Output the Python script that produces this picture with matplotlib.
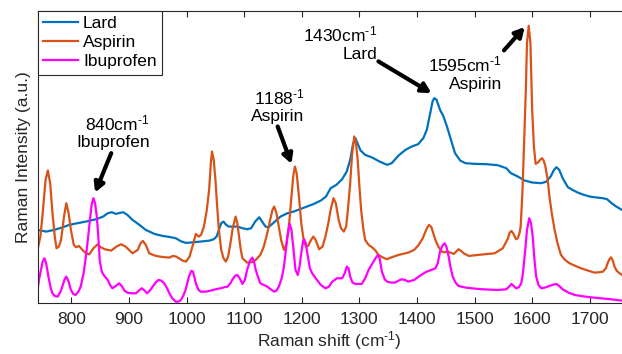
import matplotlib
matplotlib.use("Agg")
import matplotlib.pyplot as plt

plt.rcParams['font.family'] = ['Liberation Sans', 'DejaVu Sans']
plt.rcParams['mathtext.fontset'] = 'custom'
plt.rcParams['mathtext.rm'] = 'Liberation Sans'
plt.rcParams['mathtext.it'] = 'Liberation Sans:italic'
plt.rcParams['mathtext.default'] = 'regular'

# ---------------- data (Raman shift in cm^-1, intensity in a.u.) ----------------
lard_x = [741, 756, 770, 785, 796, 810, 825, 843, 855, 863, 870, 877, 884, 890, 897, 906, 918, 929,
          944, 958, 970, 981, 990, 999, 1012, 1024, 1040, 1047, 1052, 1056, 1060, 1064, 1068, 1073,
          1080, 1088, 1097, 1105, 1112, 1119, 1126, 1131, 1137, 1142, 1150, 1163, 1175, 1186, 1198,
          1209, 1221, 1233, 1242, 1250, 1260, 1270, 1278, 1284, 1289, 1293, 1297, 1302, 1310, 1322,
          1335, 1348, 1356, 1368, 1380, 1391, 1402, 1411, 1417, 1423, 1427, 1430, 1434, 1440, 1446,
          1452, 1459, 1466, 1475, 1484, 1500, 1520, 1540, 1555, 1563, 1575, 1587, 1600, 1616, 1625,
          1632, 1638, 1642, 1647, 1653, 1662, 1670, 1679, 1690, 1700, 1708, 1723, 1730, 1738, 1746,
          1756]
lard_y = [220, 215, 220, 228, 235, 240, 245, 252, 260, 270, 273, 268, 271, 273, 265, 250, 235, 220,
          208, 202, 199, 195, 186, 181, 183, 185, 188, 192, 200, 220, 240, 245, 236, 230,
          230, 230, 225, 222, 225, 245, 258, 245, 230, 228, 240, 260, 270, 275, 283,
          290, 298, 308, 320, 345, 355, 372, 395, 430, 478, 495, 478, 458, 445, 437,
          425, 415, 420, 443, 460, 470, 477, 495, 520, 570, 605, 615, 610, 580, 560,
          530, 490, 450, 428, 420, 418, 417, 414, 405, 390, 380, 368, 362, 360, 365,
          380, 400, 408, 400, 375, 348, 340, 332, 325, 320, 318, 315, 312, 300, 290,
          280]

aspirin_x = [741, 746, 750, 755, 759, 763, 767, 771, 774, 778, 782, 787, 791, 795, 799, 804, 808, 813,
             819, 825, 831, 838, 845, 851, 858, 869, 878, 886, 894, 906, 915, 920, 924, 929, 935, 945,
             953, 963, 970, 976, 982, 993, 999, 1005, 1010, 1016, 1021, 1025, 1030, 1035, 1039, 1042,
             1044, 1047, 1050, 1053, 1056, 1060, 1064, 1068, 1072, 1076, 1080, 1085, 1088, 1091, 1094,
             1097, 1105, 1113, 1120, 1128, 1134, 1140, 1145, 1149, 1152, 1156, 1160, 1164, 1169, 1173,
             1178, 1182, 1185, 1188, 1191, 1195, 1199, 1204, 1208, 1211, 1216, 1220, 1224, 1230, 1236,
             1241, 1246, 1250, 1255, 1259, 1264, 1268, 1273, 1277, 1280, 1284, 1287, 1291, 1294, 1297,
             1300, 1303, 1307, 1310, 1316, 1322, 1328, 1333, 1340, 1348, 1356, 1368, 1385, 1395, 1403,
             1410, 1414, 1418, 1421, 1425, 1428, 1432, 1437, 1443, 1448, 1453, 1458, 1464, 1468, 1472,
             1476, 1481, 1490, 1506, 1535, 1549, 1555, 1558, 1561, 1564, 1567, 1572, 1575, 1578, 1580,
             1583, 1586, 1589, 1591, 1594, 1597, 1600, 1603, 1606, 1610, 1614, 1617, 1620, 1623, 1627,
             1630, 1634, 1639, 1644, 1650, 1657, 1665, 1675, 1685, 1697, 1708, 1716, 1723, 1728, 1731,
             1734, 1737, 1740, 1743, 1747, 1752, 1756]
aspirin_y = [160, 200, 270, 370, 398, 360, 270, 200, 165, 170, 190, 260, 300, 270, 220, 175, 168, 172,
             160, 150, 147, 165, 176, 168, 162, 158, 170, 177, 170, 150, 160, 180, 187, 175, 150, 143,
             140, 138, 137, 142, 140, 128, 125, 140, 170, 208, 200, 205, 230, 280, 340, 420,
             455, 430, 370, 290, 220, 160, 135, 125, 140, 180, 225, 260, 240, 200, 160,
             135, 122, 123, 130, 145, 170, 210, 250, 280, 290, 270, 230, 190, 160, 175,
             240, 320, 380, 410, 390, 320, 240, 180, 170, 172, 190, 200, 190, 162, 170,
             200, 240, 280, 315, 300, 250, 225, 215, 230, 280, 360, 440, 500, 480, 430,
             350, 280, 220, 190, 175, 168, 158, 145, 138, 132, 138, 145, 152, 160, 175,
             195, 212, 228, 235, 228, 212, 190, 170, 155, 153, 155, 152, 148, 155, 162,
             158, 150, 142, 145, 150, 165, 185, 195, 212, 217, 210, 192, 195, 210, 230,
             330, 480, 640, 780, 832, 780, 580, 470, 418, 422, 430, 435, 428, 410, 370,
             320, 270, 220, 180, 145, 130, 120, 112, 105, 98, 92, 93, 95, 105, 120,
             132, 138, 128, 110, 97, 90, 85]

ibu_x = [741, 744, 747, 750, 753, 756, 760, 764, 767, 771, 776, 781, 785, 788, 791, 795, 799, 803, 807,
         812, 816, 821, 825, 829, 832, 835, 838, 841, 844, 847, 849, 852, 854, 858, 863, 867, 871, 877,
         883, 888, 892, 897, 903, 912, 917, 922, 927, 931, 936, 941, 946, 951, 956, 961, 966, 970, 975,
         981, 986, 990, 994, 998, 1004, 1008, 1011, 1016, 1020, 1024, 1033, 1042, 1050, 1059, 1065,
         1071, 1076, 1079, 1084, 1088, 1092, 1097, 1101, 1105, 1110, 1114, 1117, 1120, 1124, 1128,
         1134, 1140, 1146, 1152, 1156, 1160, 1165, 1169, 1172, 1175, 1179, 1182, 1185, 1189, 1193,
         1196, 1199, 1202, 1204, 1207, 1210, 1214, 1218, 1224, 1233, 1241, 1247, 1253, 1261, 1270,
         1275, 1278, 1281, 1284, 1288, 1293, 1304, 1310, 1316, 1322, 1328, 1332, 1335, 1339, 1344,
         1348, 1355, 1362, 1368, 1373, 1379, 1385, 1395, 1403, 1410, 1417, 1425, 1432, 1436, 1440,
         1444, 1448, 1451, 1455, 1458, 1462, 1467, 1472, 1485, 1495, 1513, 1540, 1555, 1560, 1564,
         1568, 1572, 1577, 1581, 1584, 1588, 1591, 1595, 1598, 1601, 1604, 1607, 1611, 1616, 1622,
         1627, 1635, 1642, 1647, 1653, 1663, 1674, 1688, 1702, 1720, 1737, 1756]
ibu_y = [40, 75, 100, 125, 135, 120, 80, 45, 30, 22, 20, 35, 55, 72, 80, 65, 40, 28, 25,
         35, 50, 90, 140, 200, 250, 295, 315, 300, 260, 190, 130, 100, 90, 80, 70, 55, 45, 52,
         60, 50, 38, 32, 30, 30, 38, 45, 38, 30, 38, 50, 62, 70, 68, 60, 45, 30, 15,
         5, 5, 10, 22, 40, 80, 97, 95, 60, 42, 35, 35, 38, 42, 45, 48,
         50, 60, 70, 82, 85, 75, 58, 70, 100, 128, 137, 125, 100, 78, 60,
         55, 50, 42, 35, 38, 50, 75, 110, 155, 200, 238, 220, 170, 100, 85,
         110, 150, 185, 192, 180, 145, 105, 90, 75, 55, 45, 50, 65, 75, 75,
         92, 110, 105, 80, 62, 58, 58, 75, 100, 118, 135, 145, 135, 95, 72,
         65, 62, 62, 68, 72, 70, 65, 70, 80, 88, 95, 100, 105, 120, 155,
         172, 180, 170, 140, 110, 80, 62, 52, 47, 45, 42, 40, 42, 50, 58,
         52, 45, 48, 60, 90, 160, 220, 255, 240, 200, 130, 80, 55, 45, 47,
         50, 55, 58, 52, 42, 32, 25, 21, 18, 15, 12, 8]

series_names = ['Lard', 'Aspirin', 'Ibuprofen']
series_colors = ['#0072BD', '#D95319', '#FF00FF']
x_ticks = [800, 900, 1000, 1100, 1200, 1300, 1400, 1500, 1600, 1700]

SUP = r'$^{\text{-1}}$'
# annotations: (text, text_x, text_y, arrow tail (x,y), arrow head (x,y))
annotations = [
    ('840cm' + SUP + '\nIbuprofen', 936, 458, (869, 450), (841, 332)),
    ('1188' + SUP + '\nAspirin', 1205, 536, (1158, 530), (1182, 418)),
    ('1430cm' + SUP + '\nLard', 1331, 724, (1333, 725), (1425, 630)),
    ('1595cm' + SUP + '\nAspirin', 1548, 634, (1551, 758), (1587, 828)),
]

# ---------------- figure ----------------
fig = plt.figure(figsize=(6.22, 3.54), dpi=100)
ax = fig.add_axes([0.0603, 0.1432, 0.9397, 0.8266])

gray = '#262626'
for xs, ys, name, col in zip([lard_x, aspirin_x, ibu_x], [lard_y, aspirin_y, ibu_y],
                             series_names, series_colors):
    ax.plot(xs, ys, color=col, lw=1.6, label=name, solid_joinstyle='round')

FS = 12.5
ax.set_xlim(741, 1756)
ax.set_ylim(0, 877)
ax.set_xticks(x_ticks)
ax.set_yticks([])
ax.tick_params(axis='x', direction='in', top=True, length=4, width=0.8, colors=gray,
               labelsize=FS, pad=6)
ax.tick_params(axis='x', labelcolor=gray)
for s in ['left', 'bottom', 'top']:
    ax.spines[s].set_color(gray)
    ax.spines[s].set_linewidth(0.8)
ax.spines['right'].set_visible(False)

ax.set_xlabel('Raman shift (cm' + SUP + ')', fontsize=FS, color=gray, labelpad=2)
ax.set_ylabel('Raman Intensity (a.u.)', fontsize=FS, color=gray, labelpad=5)

leg = ax.legend(loc='upper left', bbox_to_anchor=(0, 1), borderaxespad=0, fontsize=FS,
                frameon=True, fancybox=False, framealpha=1, edgecolor=gray,
                handlelength=2.0, handletextpad=0.3, labelspacing=0.22, borderpad=0.32)
leg.get_frame().set_linewidth(0.8)

for txt, tx, ty, tail, head in annotations:
    ax.text(tx, ty, txt, ha='right', va='bottom', multialignment='right', fontsize=FS,
            color='black', linespacing=1.2)
    ax.annotate('', xy=head, xytext=tail,
                arrowprops=dict(arrowstyle='-|>,head_length=0.55,head_width=0.3', lw=3,
                                color='black', shrinkA=0, shrinkB=0))

fig.savefig('out.png', dpi=100)
